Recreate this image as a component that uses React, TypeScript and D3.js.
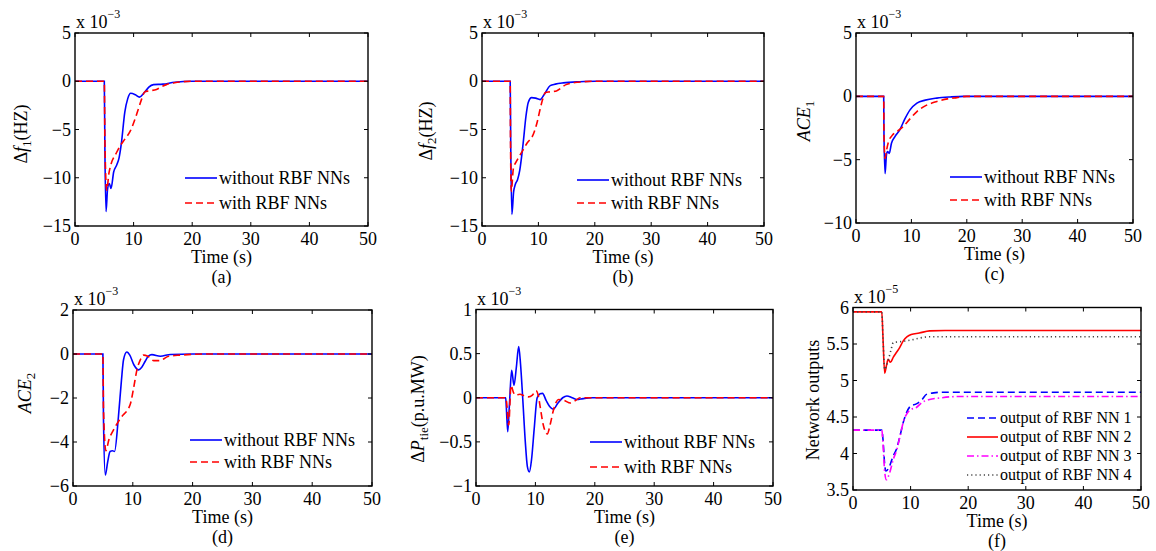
import React, { useEffect, useRef } from 'react';
import * as d3 from 'd3';

// ---- data ----
const xTicks = [0, 10, 20, 30, 40, 50];

// (a) delta f1, x 1e-3
const tA1 = [0, 5, 5.1, 5.3, 5.55, 5.85, 6.15, 6.6, 7.1, 7.5, 7.9, 8.5, 9.0, 9.5, 10.3, 11.0, 11.8, 12.6, 13.4, 15, 17, 20, 50];
const vA1 = [0, 0, -7, -13.5, -11.2, -10.6, -11.1, -9.4, -8.7, -8.0, -6.5, -3.2, -1.8, -1.25, -1.4, -1.65, -1.2, -0.6, -0.35, -0.3, -0.1, 0, 0];
const tA2 = [0, 5, 5.1, 5.4, 5.8, 6.2, 7.0, 7.7, 8.5, 9.4, 10.2, 10.8, 11.4, 11.9, 12.6, 13.9, 14.8, 15.6, 17, 20, 50];
const vA2 = [0, 0, -6, -11.3, -9.5, -8.5, -7.5, -6.7, -6.0, -5.2, -4.0, -2.9, -1.8, -1.1, -1.0, -0.85, -0.55, -0.35, -0.15, 0, 0];

// (b) delta f2, x 1e-3
const tB1 = [0, 5, 5.1, 5.3, 5.6, 5.9, 6.3, 6.7, 7.3, 7.8, 8.2, 8.8, 9.5, 10.3, 11, 12.1, 13, 14.4, 17.3, 20, 50];
const vB1 = [0, 0, -7, -13.8, -11.5, -10.7, -10.2, -9.2, -6.4, -3.6, -2.2, -1.7, -1.75, -1.9, -1.4, -0.45, -0.3, -0.17, -0.05, 0, 0];
const tB2 = [0, 5, 5.05, 5.2, 5.55, 6.2, 7.0, 8.0, 9.1, 9.8, 10.3, 10.8, 11.2, 12, 13.2, 14.9, 17, 20, 50];
const vB2 = [0, 0, -6, -11.4, -9.1, -8.2, -7.4, -6.4, -5.5, -4.2, -2.9, -1.8, -1.2, -1.1, -1.0, -0.35, -0.1, 0, 0];

// (c) ACE1, x 1e-3
const tC1 = [0, 5, 5.05, 5.25, 5.5, 5.7, 6.0, 6.4, 7.0, 7.9, 8.8, 9.75, 11, 12.5, 14.6, 17, 19.4, 50];
const vC1 = [0, 0, -3, -6.1, -4.6, -4.36, -4.5, -3.7, -3.2, -2.65, -1.8, -1.07, -0.54, -0.3, -0.14, -0.05, 0, 0];
const tC2 = [0, 5, 5.05, 5.25, 5.5, 5.85, 6.5, 7.5, 8.5, 9.7, 11, 12.5, 14.6, 16.5, 18.2, 20, 50];
const vC2 = [0, 0, -3, -4.9, -4.3, -3.6, -3.1, -2.75, -2.4, -1.8, -1.2, -0.75, -0.41, -0.2, -0.1, 0, 0];

// (d) ACE2, x 1e-3
const tD1 = [0, 5, 5.1, 5.4, 5.8, 6.2, 6.6, 6.95, 7.6, 8.1, 8.45, 9.0, 9.5, 10.2, 10.96, 11.5, 12.07, 12.6, 13.2, 14.6, 16.3, 20, 50];
const vD1 = [0, 0, -3, -5.5, -4.9, -4.43, -4.4, -4.43, -2.84, -1.2, -0.26, 0.09, -0.05, -0.5, -0.72, -0.6, -0.33, -0.1, -0.03, -0.1, -0.02, 0, 0];
const tD2 = [0, 5, 5.1, 5.5, 6.0, 6.8, 8.0, 9.56, 10.1, 10.7, 11.2, 11.8, 12.5, 13.5, 14.5, 16, 18, 22, 50];
const vD2 = [0, 0, -2.5, -4.4, -3.9, -3.44, -2.9, -2.3, -1.6, -0.71, -0.3, -0.05, -0.1, -0.3, -0.3, -0.1, -0.05, 0, 0];

// (e) delta P tie, x 1e-3
const tE1 = [0, 5, 5.1, 5.34, 5.65, 6.0, 6.4, 6.8, 7.19, 7.5, 7.86, 8.3, 8.65, 8.98, 9.35, 9.8, 10.3, 10.8, 11.2, 11.8, 12.4, 13.0, 13.8, 14.6, 15.3, 16.2, 17, 18, 19.5, 50];
const vE1 = [0, 0, -0.1, -0.385, -0.05, 0.31, 0.14, 0.35, 0.58, 0.38, 0, -0.5, -0.78, -0.84, -0.7, -0.35, 0, 0.045, 0.05, -0.03, -0.1, -0.13, -0.06, 0, 0.02, 0, -0.02, -0.01, 0, 0];
const tE2 = [0, 5, 5.15, 5.5, 5.9, 6.3, 6.6, 7.4, 8.2, 8.8, 9.5, 10.1, 10.5, 10.8, 11.3, 12.0, 12.5, 13.0, 13.5, 13.9, 14.8, 15.9, 16.8, 17.5, 50];
const vE2 = [0, 0, -0.05, -0.31, 0.14, 0.06, 0.03, 0.04, 0.02, 0.01, 0.03, 0.08, 0.02, -0.1, -0.3, -0.41, -0.3, -0.15, -0.05, -0.02, -0.03, -0.06, -0.03, 0, 0];

// (f) network outputs, x 1e-5
const tF1 = [0, 5, 5.2, 5.5, 5.7, 6.2, 6.95, 7.5, 8.1, 8.7, 9.3, 10, 11, 12, 12.75, 14, 15.6, 50];
const vF1 = [4.32, 4.32, 4.2, 3.85, 3.76, 3.8, 3.96, 4.05, 4.22, 4.42, 4.56, 4.65, 4.68, 4.74, 4.81, 4.83, 4.84, 4.84];
const tF2 = [0, 5, 5.2, 5.5, 5.8, 6.1, 6.5, 7.0, 7.5, 8.1, 8.7, 9.4, 10.1, 11.5, 13.3, 16, 50];
const vF2 = [5.94, 5.94, 5.6, 5.1, 5.2, 5.29, 5.25, 5.32, 5.38, 5.45, 5.54, 5.6, 5.63, 5.65, 5.68, 5.685, 5.685];
const tF3 = [0, 5, 5.2, 5.5, 5.8, 6.3, 7.0, 7.6, 8.2, 8.8, 9.4, 10, 11, 12, 13.3, 15, 18, 50];
const vF3 = [4.32, 4.32, 4.15, 3.75, 3.64, 3.72, 3.92, 4.05, 4.25, 4.45, 4.55, 4.6, 4.63, 4.7, 4.74, 4.76, 4.78, 4.78];
const tF4 = [0, 5, 5.2, 5.5, 5.8, 6.2, 6.6, 7.0, 8.0, 9.0, 10.4, 11.5, 13.3, 50];
const vF4 = [5.94, 5.94, 5.6, 5.15, 5.2, 5.3, 5.42, 5.52, 5.53, 5.54, 5.56, 5.58, 5.6, 5.6];

const legendAB = ['without RBF NNs', 'with RBF NNs'];
const legendF = ['output of RBF NN 1', 'output of RBF NN 2', 'output of RBF NN 3', 'output of RBF NN 4'];

const FONT = '"Liberation Serif", "Times New Roman", serif';
const BLUE = '#0000ff';
const RED = '#ff0000';

type Series = { t: number[]; v: number[]; color: string; dash: string | null; label: string };
type Panel = {
  box: [number, number, number, number]; // left, top, right, bottom
  yDomain: [number, number];
  yStep: number;
  exp: string;
  ylabel: (g: any) => void;
  ylabelPos: [number, number];
  series: Series[];
  legend: { x: number; y: number[]; len: number; size: number };
  caption: string;
};

const withoutWith = (t1: number[], v1: number[], t2: number[], v2: number[]): Series[] => [
  { t: t1, v: v1, color: BLUE, dash: null, label: legendAB[0] },
  { t: t2, v: v2, color: RED, dash: '7,4', label: legendAB[1] },
];

const labelDf = (n: string) => (tx: any) => {
  tx.append('tspan').text('Δ');
  tx.append('tspan').attr('font-style', 'italic').text('f');
  tx.append('tspan').attr('font-size', 13).attr('dy', 4).text(n);
  tx.append('tspan').attr('dy', -4).text('(HZ)');
};
const labelAce = (n: string) => (tx: any) => {
  tx.append('tspan').attr('font-style', 'italic').text('ACE');
  tx.append('tspan').attr('font-size', 13).attr('dy', 4).text(n);
};
const labelPtie = (tx: any) => {
  tx.append('tspan').text('Δ');
  tx.append('tspan').attr('font-style', 'italic').text('P');
  tx.append('tspan').attr('font-size', 13).attr('dy', 4).text('tie');
  tx.append('tspan').attr('dy', -4).text('(p.u.MW)');
};
const labelNet = (tx: any) => {
  tx.text('Network outputs');
};

const panels: Panel[] = [
  {
    box: [75, 33, 368, 226], yDomain: [-15, 5], yStep: 5, exp: '−3',
    ylabel: labelDf('1'), ylabelPos: [26.5, 134],
    series: withoutWith(tA1, vA1, tA2, vA2),
    legend: { x: 185, y: [178, 203], len: 32, size: 18 }, caption: '(a)',
  },
  {
    box: [482, 33, 764, 226], yDomain: [-15, 5], yStep: 5, exp: '−3',
    ylabel: labelDf('2'), ylabelPos: [431.5, 131],
    series: withoutWith(tB1, vB1, tB2, vB2),
    legend: { x: 577, y: [180, 203], len: 32, size: 18 }, caption: '(b)',
  },
  {
    box: [856, 33, 1133, 223], yDomain: [-10, 5], yStep: 5, exp: '−3',
    ylabel: labelAce('1'), ylabelPos: [810, 121],
    series: withoutWith(tC1, vC1, tC2, vC2),
    legend: { x: 950, y: [177, 200], len: 32, size: 18 }, caption: '(c)',
  },
  {
    box: [73, 310, 372, 486], yDomain: [-6, 2], yStep: 2, exp: '−3',
    ylabel: labelAce('2'), ylabelPos: [31, 393],
    series: withoutWith(tD1, vD1, tD2, vD2),
    legend: { x: 190, y: [440, 462], len: 32, size: 18 }, caption: '(d)',
  },
  {
    box: [476, 309.5, 773, 486], yDomain: [-1, 1], yStep: 0.5, exp: '−3',
    ylabel: labelPtie, ylabelPos: [424, 409],
    series: withoutWith(tE1, vE1, tE2, vE2),
    legend: { x: 590, y: [442, 467], len: 32, size: 18 }, caption: '(e)',
  },
  {
    box: [853, 307.5, 1141, 490], yDomain: [3.5, 6], yStep: 0.5, exp: '−5',
    ylabel: labelNet, ylabelPos: [819, 400],
    series: [
      { t: tF1, v: vF1, color: BLUE, dash: '7,4', label: legendF[0] },
      { t: tF2, v: vF2, color: RED, dash: null, label: legendF[1] },
      { t: tF3, v: vF3, color: '#ff00ff', dash: '7,3,1.5,3', label: legendF[2] },
      { t: tF4, v: vF4, color: '#444', dash: '1.2,3', label: legendF[3] },
    ],
    legend: { x: 967, y: [418, 437, 456, 475], len: 31, size: 16 }, caption: '(f)',
  },
];

const drawPanel = (svg: any, p: Panel, idx: number) => {
  const [l, t, r, b] = p.box;
  const x = d3.scaleLinear().domain([0, 50]).range([l, r]);
  const y = d3.scaleLinear().domain(p.yDomain).range([b, t]);
  const fmt = d3.format('~g');
  const g = svg.append('g').attr('font-family', FONT).attr('fill', '#000');

  g.append('rect').attr('x', l).attr('y', t).attr('width', r - l).attr('height', b - t).attr('fill', '#fff');

  const clipId = `clip${idx}`;
  svg.append('clipPath').attr('id', clipId)
    .append('rect').attr('x', l).attr('y', t).attr('width', r - l).attr('height', b - t);

  // curves
  const line = d3.line<[number, number]>()
    .x(d => x(d[0]))
    .y(d => y(d[1]))
    .curve(d3.curveMonotoneX);
  p.series.forEach(s => {
    const pts: [number, number][] = s.t.map((tt, i) => [tt, s.v[i]]);
    g.append('path')
      .attr('clip-path', `url(#${clipId})`)
      .attr('d', line(pts))
      .attr('fill', 'none')
      .attr('stroke', s.color)
      .attr('stroke-width', 1.6)
      .attr('stroke-dasharray', s.dash);
  });

  // ticks (inside, on all four sides)
  const yTicks = d3.range(p.yDomain[0], p.yDomain[1] + 1e-9, p.yStep);
  const tk = g.append('g').attr('stroke', '#000').attr('stroke-width', 1);
  xTicks.forEach(v => {
    tk.append('line').attr('x1', x(v)).attr('x2', x(v)).attr('y1', b).attr('y2', b - 4);
    tk.append('line').attr('x1', x(v)).attr('x2', x(v)).attr('y1', t).attr('y2', t + 4);
  });
  yTicks.forEach(v => {
    tk.append('line').attr('x1', l).attr('x2', l + 4).attr('y1', y(v)).attr('y2', y(v));
    tk.append('line').attr('x1', r).attr('x2', r - 4).attr('y1', y(v)).attr('y2', y(v));
  });
  g.append('rect').attr('x', l).attr('y', t).attr('width', r - l).attr('height', b - t)
    .attr('fill', 'none').attr('stroke', '#000').attr('stroke-width', 1.4);

  // tick labels
  xTicks.forEach(v => {
    g.append('text').attr('x', x(v)).attr('y', b + 19).attr('text-anchor', 'middle')
      .attr('font-size', 18).text(fmt(v));
  });
  yTicks.forEach(v => {
    g.append('text').attr('x', l - 4).attr('y', y(v) + 6).attr('text-anchor', 'end')
      .attr('font-size', 18).text(fmt(v));
  });

  // exponent
  const ex = g.append('text').attr('x', l + 1).attr('y', t - 5).attr('font-size', 18);
  ex.append('tspan').text('x 10');
  ex.append('tspan').attr('font-size', 12).attr('dy', -10).text(p.exp);

  // axis labels
  g.append('text').attr('x', (l + r) / 2).attr('y', b + 37).attr('text-anchor', 'middle')
    .attr('font-size', 18).text('Time (s)');
  g.append('text').attr('x', (l + r) / 2).attr('y', b + 57).attr('text-anchor', 'middle')
    .attr('font-size', 18).text(p.caption);
  const yl = g.append('text')
    .attr('transform', `translate(${p.ylabelPos[0]},${p.ylabelPos[1]}) rotate(-90)`)
    .attr('text-anchor', 'middle').attr('font-size', 18);
  p.ylabel(yl);

  // legend
  p.series.forEach((s, i) => {
    const ly = p.legend.y[i];
    g.append('line').attr('x1', p.legend.x).attr('x2', p.legend.x + p.legend.len)
      .attr('y1', ly).attr('y2', ly)
      .attr('stroke', s.color).attr('stroke-width', 1.6).attr('stroke-dasharray', s.dash);
    g.append('text').attr('x', p.legend.x + p.legend.len + 2).attr('y', ly + p.legend.size * 0.33)
      .attr('font-size', p.legend.size).text(s.label);
  });
};

const App = () => {
  const ref = useRef<SVGSVGElement>(null);

  useEffect(() => {
    if (!ref.current) return;
    const svg = d3.select(ref.current);
    svg.selectAll('*').remove();
    panels.forEach((p, i) => drawPanel(svg, p, i));
  }, []);

  return (
    <svg
      ref={ref}
      width={1156}
      height={551}
      style={{ position: 'absolute', left: 0, top: 0, background: '#fff' }}
    />
  );
};

export default App;
